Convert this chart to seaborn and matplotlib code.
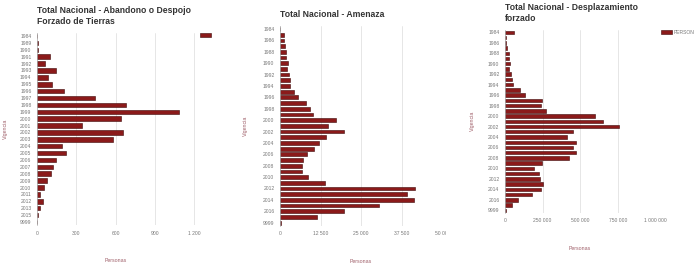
import numpy as np
import pandas as pd
import matplotlib
matplotlib.use("Agg")
import matplotlib.pyplot as plt
from matplotlib.transforms import Bbox, TransformedBbox
import seaborn as sns

# panel 1: Abandono o Despojo Forzado de Tierras
abandono_years = ["1984", "1989", "1990", "1991", "1992", "1993", "1994", "1995",
                  "1996", "1997", "1998", "1999", "2000", "2001", "2002", "2003",
                  "2004", "2005", "2006", "2007", "2008", "2009", "2010", "2011",
                  "2012", "2013", "2015", "9999"]
abandono_vals = [2, 6, 5, 102, 64, 147, 81, 117, 203, 445, 676, 1080, 641, 346, 658,
                 582, 191, 219, 147, 119, 109, 74, 51, 25, 46, 25, 4, 2]

# panels 2 and 3 share the year list
years = [str(y) for y in range(1984, 2018)] + ["9999"]
amenaza_vals = [100, 1330, 1300, 1500, 1700, 1700, 2560, 2250, 2870, 3070, 3070, 4300,
                5530, 8000, 9100, 10250, 17200, 14650, 19800, 14100, 12000, 10560,
                8400, 7170, 6870, 6760, 8600, 14000, 41600, 39250, 41400, 30400,
                19600, 11480, 400]
desplaz_vals = [57700, 6600, 8900, 11000, 28800, 24400, 35500, 28800, 40000, 46600,
                51000, 102000, 135300, 246000, 237000, 270600, 596600, 654300,
                756300, 450200, 414800, 472400, 452500, 472400, 423600, 246200,
                190700, 226200, 230700, 252800, 239500, 181900, 88700, 44400, 4400]

sns.set_style("white")
plt.rcParams["font.family"] = ["Liberation Sans", "DejaVu Sans"]

W, H = 700, 273
fig = plt.figure(figsize=(W / 100, H / 100), dpi=100)

BAR = "#8b1a1a"
EDGE = "#3e0808"
TICK = "#777777"
LABEL = "#a0606a"


def px_axes(left, right, top, bottom):
    return fig.add_axes([left / W, 1 - bottom / H, (right - left) / W, (bottom - top) / H])


def fmt(v):
    return f"{v:,}".replace(",", " ")


def draw(ax, cats, vals, xmax, ticks, title, step, label_x):
    df = pd.DataFrame({"Vigencia": cats, "Personas": vals})
    sns.barplot(data=df, x="Personas", y="Vigencia", order=cats, orient="h",
                color=BAR, edgecolor=EDGE, linewidth=0.4, width=0.66, saturation=1,
                ax=ax, label="PERSON")
    ax.set_xlim(0, xmax)
    ax.set_xticks(ticks)
    ax.set_xticklabels([fmt(t) for t in ticks])
    ax.set_yticks(range(0, len(cats), step))
    ax.set_yticklabels(cats[::step])
    ax.tick_params(axis="both", length=0, labelsize=3.6, labelcolor=TICK, pad=4)
    ax.grid(axis="x", color="#e2e2e2", lw=0.6)
    ax.set_axisbelow(True)
    for s in ["top", "right", "bottom"]:
        ax.spines[s].set_visible(False)
    ax.spines["left"].set_color("#b0b0b0")
    ax.spines["left"].set_linewidth(0.5)
    ax.set_xlabel("Personas", fontsize=3.8, color=LABEL)
    ax.set_ylabel("Vigencia", fontsize=3.8, color=LABEL)
    ax.xaxis.set_label_coords(label_x, -0.17)
    ax.text(0, 1.0, title, transform=ax.transAxes, ha="left", va="bottom",
            fontsize=6.2, fontweight="bold", color="#333333", linespacing=1.35)
    if ax.get_legend() is not None:
        ax.get_legend().remove()


ax1 = px_axes(37, 207.6, 32.6, 225.4)
draw(ax1, abandono_years, abandono_vals, 1300, [0, 300, 600, 900, 1200],
     "Total Nacional - Abandono o Despojo\nForzado de Tierras", 1, 0.46)
ax1.yaxis.set_label_coords(-0.17, 0.5)
ax1.texts[0].set_position((0, 1.032))

ax2 = px_axes(280, 442.4, 26.2, 225.5)
draw(ax2, years, amenaza_vals, 50000, [0, 12500, 25000, 37500, 50000],
     "Total Nacional - Amenaza", 2, 0.5)
ax2.yaxis.set_label_coords(-0.2, 0.5)
ax2.texts[0].set_position((0, 1.035))

ax3 = px_axes(505, 655.3, 29.7, 212.9)
draw(ax3, years, desplaz_vals, 1000000, [0, 250000, 500000, 750000, 1000000],
     "Total Nacional - Desplazamiento\nforzado", 2, 0.5)
ax3.yaxis.set_label_coords(-0.2, 0.5)
ax3.xaxis.set_label_coords(0.5, -0.18)
ax3.texts[0].set_position((0, 1.035))

# legends (panel 1 is cut off at the screenshot border)
handle = plt.Rectangle((0, 0), 1, 1, facecolor=BAR, edgecolor=EDGE, lw=0.4)
leg1 = fig.legend([handle], ["PERSON"], loc="upper left",
                  bbox_to_anchor=(197 / W, 1 - 30 / H), frameon=False,
                  fontsize=3.6, handlelength=2.2, handleheight=1.0, borderpad=0)
leg3 = fig.legend([handle], ["PERSON"], loc="upper left",
                  bbox_to_anchor=(658 / W, 1 - 27 / H), frameon=False,
                  fontsize=3.6, handlelength=2.2, handleheight=1.0, borderpad=0,
                  handletextpad=0.5)
for leg in (leg1, leg3):
    for t in leg.get_texts():
        t.set_color(TICK)

# panel 1 legend text lies outside the cropped screenshot
leg1.get_texts()[0].set_visible(False)

clip2 = TransformedBbox(Bbox([[0, 0], [446 / W, 1]]), fig.transFigure)
for lab in ax2.get_xticklabels():
    lab.set_clip_box(clip2)
    lab.set_clip_on(True)

fig.savefig("out.png", dpi=100, facecolor="white")
